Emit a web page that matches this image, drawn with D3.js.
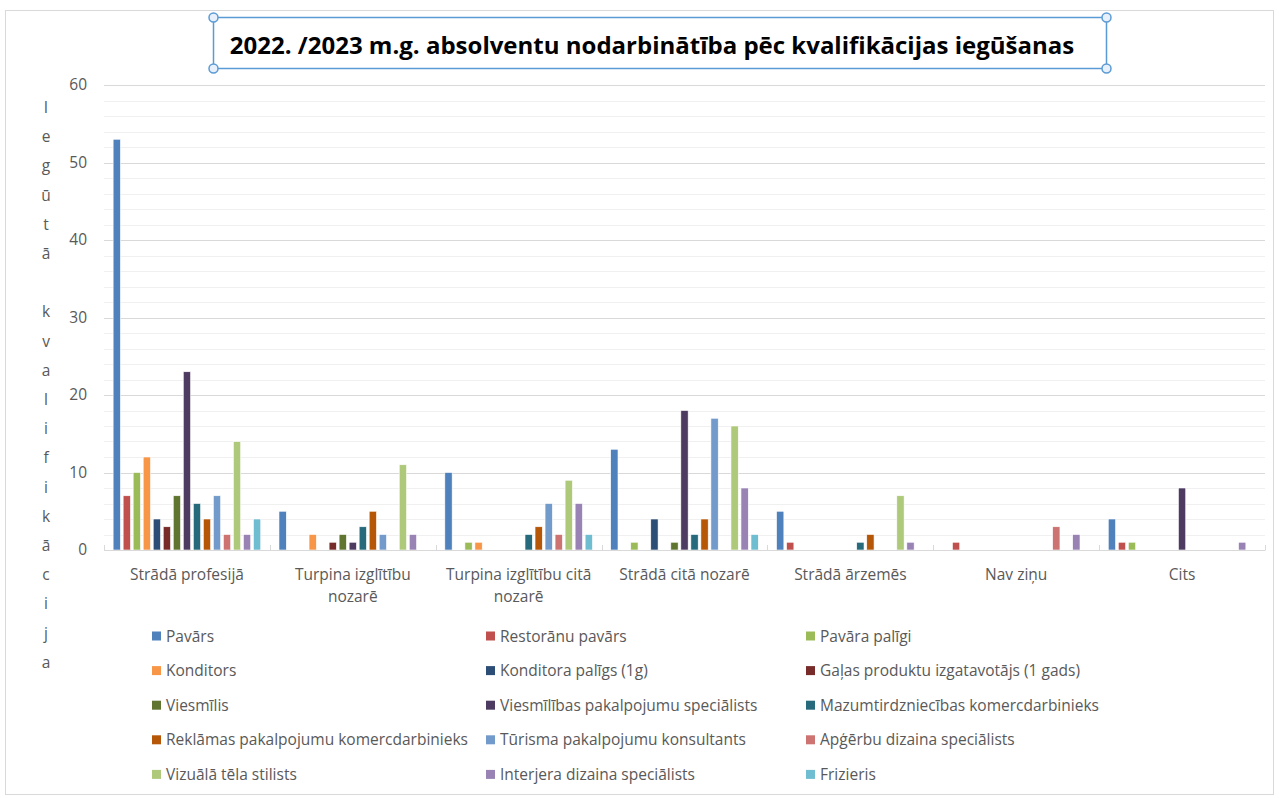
<!DOCTYPE html>
<html>
<head>
<meta charset="utf-8">
<script src="https://cdn.jsdelivr.net/npm/d3@7"></script>
<style>
  body { margin: 0; background: #fff; }
  svg text { font-family: "Open Sans", "Noto Sans", sans-serif; }
</style>
</head>
<body>
<div id="chart"></div>
<script>
// kategorijas (x ass)
const categories = [
    ["Strādā profesijā"],
    ["Turpina izglītību", "nozarē"],
    ["Turpina izglītību citā", "nozarē"],
    ["Strādā citā nozarē"],
    ["Strādā ārzemēs"],
    ["Nav ziņu"],
    ["Cits"]
];

// sērijas (kvalifikācijas)
const seriesNames = [
    "Pavārs", "Restorānu pavārs", "Pavāra palīgi",
    "Konditors", "Konditora palīgs (1g)", "Gaļas produktu izgatavotājs (1 gads)",
    "Viesmīlis", "Viesmīlības pakalpojumu speciālists", "Mazumtirdzniecības komercdarbinieks",
    "Reklāmas pakalpojumu komercdarbinieks", "Tūrisma pakalpojumu konsultants", "Apģērbu dizaina speciālists",
    "Vizuālā tēla stilists", "Interjera dizaina speciālists", "Frizieris"
];

const seriesColors = [
    "#4F81BD", "#C0504D", "#9BBB59",
    "#F79646", "#2C4D75", "#772C2A",
    "#5F7530", "#4D3B62", "#276A7C",
    "#B65708", "#729ACA", "#CD7371",
    "#AFC97A", "#9983B5", "#6FBDD1"
];

// vērtības katrai sērijai pa kategorijām
const values = [
    [53, 5, 10, 13, 5, 0, 4],
    [7, 0, 0, 0, 1, 1, 1],
    [10, 0, 1, 1, 0, 0, 1],
    [12, 2, 1, 0, 0, 0, 0],
    [4, 0, 0, 4, 0, 0, 0],
    [3, 1, 0, 0, 0, 0, 0],
    [7, 2, 0, 1, 0, 0, 0],
    [23, 1, 0, 18, 0, 0, 8],
    [6, 3, 2, 2, 1, 0, 0],
    [4, 5, 3, 4, 2, 0, 0],
    [7, 2, 6, 17, 0, 0, 0],
    [2, 0, 2, 0, 0, 3, 0],
    [14, 11, 9, 16, 7, 0, 0],
    [2, 2, 6, 8, 1, 2, 1],
    [4, 0, 2, 2, 0, 0, 0]
];

const yTicks = [0, 10, 20, 30, 40, 50, 60];
const chartTitle = "2022. /2023 m.g. absolventu nodarbinātība pēc kvalifikācijas iegūšanas";
const axisTitle = "Iegūtā kvalifikācija";

const width = 1279, height = 798;
const plot = { left: 104, right: 1265, top: 85, bottom: 550 };
const fontSize = "15.5px";

const svg = d3.select("#chart").append("svg")
    .attr("width", width)
    .attr("height", height);

// ārējais rāmis
svg.append("rect")
    .attr("x", 5.5).attr("y", 10.5)
    .attr("width", 1268).attr("height", 784)
    .attr("fill", "#fff")
    .attr("stroke", "#d9d9d9");

const catKeys = categories.map((c, i) => i);
const x0 = d3.scaleBand().domain(catKeys).range([plot.left, plot.right]);
const x1 = d3.scaleBand().domain(d3.range(seriesNames.length))
    .range([0, x0.bandwidth()])
    .paddingInner(0.27).paddingOuter(0.91);
const y = d3.scaleLinear().domain([0, 60]).range([plot.bottom, plot.top]);

// palīglīnijas (ik pa 2) un galvenās (ik pa 10)
svg.append("g").selectAll("line")
    .data(d3.range(2, 61, 2).filter(v => v % 10 !== 0))
    .enter().append("line")
    .attr("x1", plot.left).attr("x2", plot.right)
    .attr("y1", d => Math.round(y(d)) + 0.5).attr("y2", d => Math.round(y(d)) + 0.5)
    .attr("stroke", "#f0f0f0");

svg.append("g").selectAll("line")
    .data(yTicks.filter(v => v > 0))
    .enter().append("line")
    .attr("x1", plot.left).attr("x2", plot.right)
    .attr("y1", d => Math.round(y(d)) + 0.5).attr("y2", d => Math.round(y(d)) + 0.5)
    .attr("stroke", "#d9d9d9");

// y ass
const yAxis = svg.append("g")
    .attr("transform", `translate(${plot.left - 17},0)`)
    .call(d3.axisLeft(y).tickValues(yTicks).tickSize(0).tickPadding(0));
yAxis.select(".domain").remove();
yAxis.selectAll("text")
    .attr("fill", "#595959")
    .style("font-size", fontSize);

// stabiņi
const bars = [];
values.forEach((row, s) => {
    row.forEach((v, c) => {
        if (v > 0) bars.push({ s, c, v });
    });
});

svg.append("g").selectAll("rect")
    .data(bars)
    .enter().append("rect")
    .attr("x", d => x0(d.c) + x1(d.s))
    .attr("y", d => y(d.v))
    .attr("width", x1.bandwidth())
    .attr("height", d => y(0) - y(d.v))
    .attr("fill", d => seriesColors[d.s])
    .attr("stroke", "#fff")
    .attr("stroke-width", 0.6);

// x ass
svg.append("line")
    .attr("x1", plot.left).attr("x2", plot.right)
    .attr("y1", plot.bottom + 0.5).attr("y2", plot.bottom + 0.5)
    .attr("stroke", "#d9d9d9");

svg.append("g").selectAll("line")
    .data(catKeys.concat([categories.length]))
    .enter().append("line")
    .attr("x1", d => Math.round(plot.left + d * x0.bandwidth()) + 0.5)
    .attr("x2", d => Math.round(plot.left + d * x0.bandwidth()) + 0.5)
    .attr("y1", plot.bottom - 5).attr("y2", plot.bottom + 0.5)
    .attr("stroke", "#d9d9d9");

const xLabels = svg.append("g").selectAll("text")
    .data(categories)
    .enter().append("text")
    .attr("x", (d, i) => x0(i) + x0.bandwidth() / 2)
    .attr("y", 580)
    .attr("text-anchor", "middle")
    .attr("fill", "#595959")
    .style("font-size", fontSize);
xLabels.selectAll("tspan")
    .data(d => d)
    .enter().append("tspan")
    .attr("x", function() { return d3.select(this.parentNode).attr("x"); })
    .attr("dy", (d, i) => i === 0 ? 0 : 22)
    .text(d => d);

// vertikālais ass nosaukums - burti viens zem otra
svg.append("g").selectAll("text")
    .data(axisTitle.split(""))
    .enter().append("text")
    .attr("x", 46)
    .attr("y", (d, i) => 113 + i * 29.2)
    .attr("text-anchor", "middle")
    .attr("fill", "#595959")
    .style("font-size", fontSize)
    .text(d => d);

// virsraksts ar izvēles rāmi
const titleBox = { x: 213.5, y: 17.5, w: 893, h: 51 };
svg.append("rect")
    .attr("x", titleBox.x).attr("y", titleBox.y)
    .attr("width", titleBox.w).attr("height", titleBox.h)
    .attr("fill", "none")
    .attr("stroke", "#5B9BD5")
    .attr("stroke-width", 1.5);

svg.append("text")
    .attr("x", 652)
    .attr("y", 54)
    .attr("text-anchor", "middle")
    .attr("fill", "#000")
    .style("font-size", "24px")
    .style("font-weight", "bold")
    .text(chartTitle);

svg.append("g").selectAll("circle")
    .data([[0, 0], [1, 0], [0, 1], [1, 1]])
    .enter().append("circle")
    .attr("cx", d => titleBox.x + d[0] * titleBox.w)
    .attr("cy", d => titleBox.y + d[1] * titleBox.h)
    .attr("r", 4.5)
    .attr("fill", "#e8f1fb")
    .attr("stroke", "#5B9BD5")
    .attr("stroke-width", 1.5);

// leģenda - 3 kolonnas
const legendCols = [152, 486, 806];
const legend = svg.append("g").selectAll("g")
    .data(seriesNames)
    .enter().append("g")
    .attr("transform", (d, i) => `translate(${legendCols[i % 3]},${636 + Math.floor(i / 3) * 34.6})`);

legend.append("rect")
    .attr("x", 0).attr("y", -4.5)
    .attr("width", 9).attr("height", 9)
    .attr("fill", (d, i) => seriesColors[i]);

legend.append("text")
    .attr("x", 14)
    .attr("y", 5.5)
    .attr("fill", "#595959")
    .style("font-size", fontSize)
    .text(d => d);
</script>
</body>
</html>
